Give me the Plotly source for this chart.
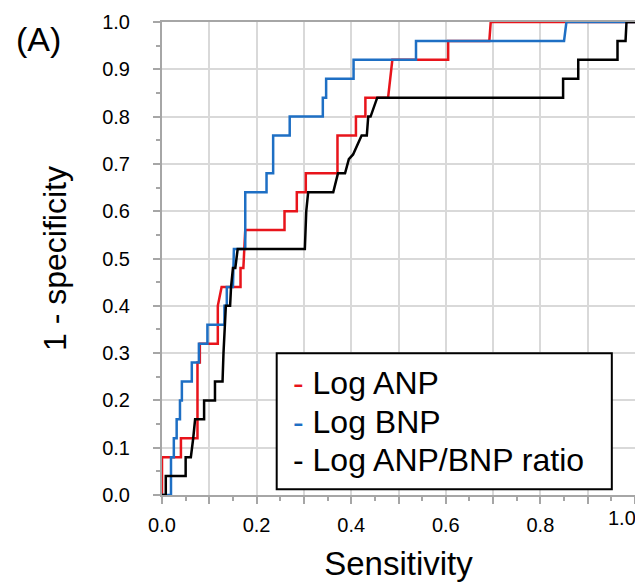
import plotly.graph_objects as go

# ROC step curves (x = Sensitivity, y = 1 - specificity)
anp_x = [0, 0, 0.04, 0.04, 0.068, 0.075, 0.075, 0.08, 0.08, 0.118, 0.118, 0.126, 0.166, 0.166, 0.172, 0.176,
         0.259, 0.259, 0.285, 0.285, 0.304, 0.304, 0.371, 0.371, 0.41, 0.41, 0.43, 0.43, 0.478, 0.487,
         0.605, 0.605, 0.692, 0.695, 1.0]
anp_y = [0, 0.08, 0.08, 0.12, 0.12, 0.12, 0.28, 0.28, 0.32, 0.32, 0.40, 0.44, 0.44, 0.48, 0.48, 0.56,
         0.56, 0.60, 0.60, 0.64, 0.64, 0.68, 0.68, 0.76, 0.76, 0.80, 0.80, 0.84, 0.84, 0.92,
         0.92, 0.96, 0.96, 1.0, 1.0]

bnp_x = [0, 0.019, 0.019, 0.025, 0.025, 0.031, 0.031, 0.038, 0.038, 0.042, 0.042, 0.063, 0.063, 0.078,
         0.078, 0.096, 0.096, 0.132, 0.132, 0.137, 0.137, 0.15, 0.152, 0.176, 0.176, 0.221, 0.221,
         0.235, 0.235, 0.27, 0.27, 0.34, 0.34, 0.347, 0.347, 0.405, 0.405, 0.537, 0.537, 0.85, 0.855, 1.0]
bnp_y = [0, 0, 0.08, 0.08, 0.12, 0.12, 0.16, 0.16, 0.20, 0.20, 0.24, 0.24, 0.28, 0.28,
         0.32, 0.32, 0.36, 0.36, 0.40, 0.40, 0.44, 0.44, 0.52, 0.52, 0.64, 0.64, 0.68,
         0.68, 0.76, 0.76, 0.80, 0.80, 0.84, 0.84, 0.88, 0.88, 0.92, 0.92, 0.96, 0.96, 1.0, 1.0]

ratio_x = [0, 0.008, 0.008, 0.05, 0.05, 0.061, 0.066, 0.070, 0.089, 0.089, 0.112, 0.112, 0.128, 0.130,
           0.135, 0.144, 0.146, 0.150, 0.155, 0.160, 0.302, 0.305, 0.309, 0.362, 0.372, 0.387, 0.395,
           0.404, 0.422, 0.433, 0.436, 0.441, 0.455, 0.848, 0.848, 0.88, 0.88, 0.963, 0.963, 0.98,
           0.982, 1.0]
ratio_y = [0, 0, 0.04, 0.04, 0.08, 0.08, 0.12, 0.16, 0.16, 0.20, 0.20, 0.24, 0.24, 0.30,
           0.40, 0.40, 0.44, 0.48, 0.48, 0.52, 0.52, 0.60, 0.64, 0.64, 0.68, 0.68, 0.71,
           0.72, 0.76, 0.76, 0.80, 0.80, 0.84, 0.84, 0.88, 0.88, 0.92, 0.92, 0.96, 0.96,
           1.0, 1.0]

series_names = ["Log ANP", "Log BNP", "Log ANP/BNP ratio"]
series_colors = ["#e8141b", "#1e6fc4", "#000000"]

major_ticks = [i / 10 for i in range(11)]
# the last x label ("1.0") is drawn as an annotation nudged inside the window, as in the reference
x_ticktext = ["0.0", "", "0.2", "", "0.4", "", "0.6", "", "0.8", "", ""]
x_last_label = "1.0"
y_ticktext = ["0.0", "0.1", "0.2", "0.3", "0.4", "0.5", "0.6", "0.7", "0.8", "0.9", "1.0"]

FONT = "Arial, Liberation Sans, sans-serif"

fig = go.Figure()
for xs, ys, name, col in zip([anp_x, bnp_x, ratio_x], [anp_y, bnp_y, ratio_y], series_names, series_colors):
    fig.add_trace(go.Scatter(x=xs, y=ys, mode="lines", name=name,
                             line=dict(color=col, width=2.5), showlegend=False))

axis_common = dict(
    range=[0, 1], showgrid=True, gridcolor="#d9d9d9", gridwidth=1.5,
    showline=True, linecolor="#a6a6a6", linewidth=2, mirror=True,
    ticks="outside", ticklen=7, tickcolor="#a6a6a6", tickwidth=1.5,
    tickvals=major_ticks, zeroline=False, automargin=False, ticklabeloverflow="allow",
    tickfont=dict(family=FONT, size=20, color="#000"),
    minor=dict(ticks="outside", ticklen=4, tickcolor="#a6a6a6", dtick=0.05, showgrid=False),
)

fig.update_xaxes(**axis_common, ticktext=x_ticktext, ticklabelstandoff=4,
                 title=dict(text="Sensitivity", font=dict(family=FONT, size=33, color="#000"), standoff=17))
fig.update_yaxes(**axis_common, ticktext=y_ticktext, ticklabelstandoff=19,
                 title=dict(text="1 - specificity", font=dict(family=FONT, size=32, color="#000"), standoff=26))

fig.add_annotation(xref="paper", yref="paper", x=0.972, y=-0.049, xanchor="center", yanchor="middle",
                   text=x_last_label, showarrow=False, font=dict(family=FONT, size=20, color="#000"))

# legend box
fig.add_shape(type="rect", xref="x", yref="y", x0=0.2425, x1=0.951, y0=0.012, y1=0.2996,
              line=dict(color="#000", width=2), fillcolor="white", layer="above")
row_y = [0.237, 0.155, 0.074]
for name, col, yy in zip(series_names, series_colors, row_y):
    fig.add_annotation(xref="x", yref="y", x=0.273, y=yy, xanchor="left", yanchor="middle",
                       text=f'<span style="color:{col}">-</span> {name}', showarrow=False,
                       font=dict(family=FONT, size=32, color="#000"))

fig.add_annotation(xref="paper", yref="paper", x=-0.313, y=1.008, xanchor="left", yanchor="top",
                   text="(A)", showarrow=False, font=dict(family=FONT, size=34, color="#000"))

# the page adds an 8px body margin, so the figure is sized to end at the window edge
fig.update_layout(width=635, height=577, margin=dict(l=154, r=8, t=14, b=90),
                  plot_bgcolor="white", paper_bgcolor="white", showlegend=False)

fig.write_html("out.html")
